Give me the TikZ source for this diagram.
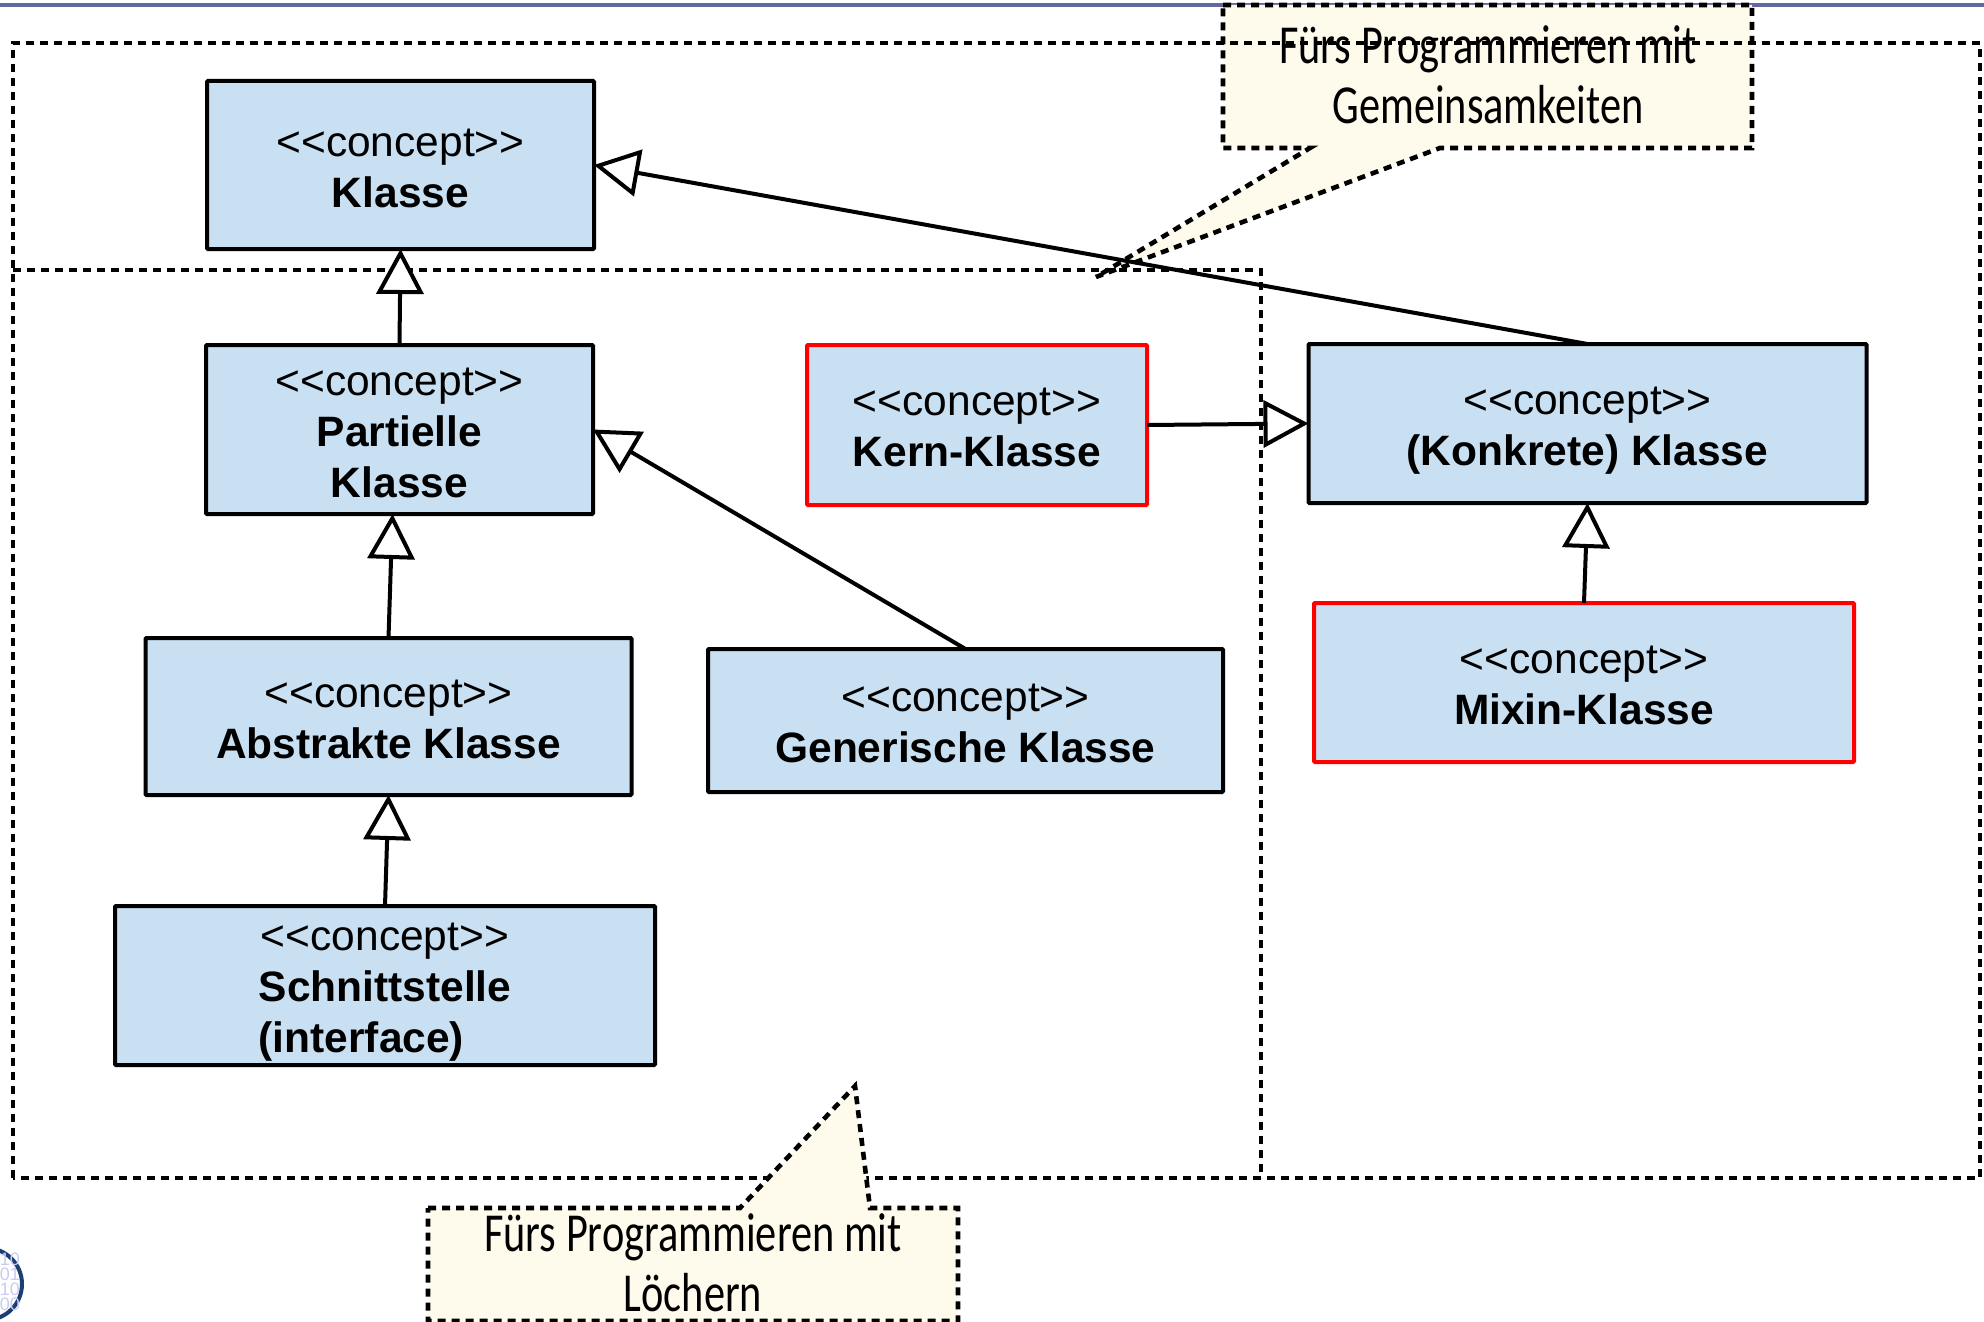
\documentclass[tikz,border=0pt]{standalone}
\usepackage{fontspec}
\setmainfont{Liberation Sans}
\newfontfamily\handfont[FakeStretch=0.77]{Carlito}
\usetikzlibrary{arrows.meta,calc}
\definecolor{boxblue}{HTML}{C9E0F3}
\definecolor{notefill}{HTML}{FFFBEC}
\definecolor{topbar}{HTML}{6468A0}
\definecolor{logonavy}{HTML}{1B3F73}
\definecolor{logodigit}{HTML}{C9CCF2}
\tikzset{
  x=1pt,y=-1pt,
  concept/.style={draw=black,fill=boxblue,line width=4pt,rounded corners=1pt,inner sep=0pt,outer sep=0pt,align=center,font=\fontsize{42.5}{51}\selectfont},
  conceptred/.style={concept,draw=red},
  frameline/.style={draw=black,line width=4.6pt,dash pattern=on 8pt off 6pt},
  noteshape/.style={draw=black,fill=notefill,line width=4.6pt,dash pattern=on 8pt off 6pt},
  notetext/.style={inner sep=0pt,align=center,font=\handfont\fontsize{55}{60}\selectfont},
  inherit/.style={draw=black,line width=4pt,-{Triangle[fill=white,length=45pt,width=47pt]}},
}
% first line of a box; the argument lowers the whole text block in its box
\newcommand{\cpt}[1]{\rule{0pt}{\dimexpr 30pt+2\dimexpr #1\relax\relax}<{}<concept>{}>}
\begin{document}
\begin{tikzpicture}
\useasboundingbox (0,0) rectangle (1984,1322);
% top bar
\fill[topbar] (0,3) rectangle (1984,7);
% logo
\begin{scope}
\clip (0,1230) rectangle (40,1322);
\draw[logonavy,line width=4pt,fill=white] (-14,1284) circle (36);
\node[text=logodigit,inner sep=0pt,align=right,anchor=east,font=\fontsize{18}{15}\selectfont] (logo) at (20,1282) {10\\01\\10\\00};
\end{scope}
% upper note (behind the frame)
\path[noteshape] (1223,5) -- (1752,5) -- (1752,148) -- (1440,148) -- (1096,277) -- (1310,148) -- (1223,148) -- cycle;
% frames
\draw[frameline] (13,1178) -- (13,43) -- (1980,43) -- (1980,1178) -- cycle;
\draw[frameline] (13,270) -- (1261,270) -- (1261,1178);
% note texts and lower note
\node[notetext] (noteA) at (1488,75) {Fürs Programmieren mit\\Gemeinsamkeiten};
\path[noteshape] (428,1208) -- (740,1208) -- (855,1086) -- (870,1208) -- (958,1208) -- (958,1321) -- (428,1321) -- cycle;
\node[notetext] (noteB) at (693,1263) {Fürs Programmieren mit\\Löchern};
% boxes
\node[concept,minimum width=387pt,minimum height=168pt] (klasse) at (400.5,165) {\cpt{2.5pt}\\\textbf{Klasse}};
\node[concept,minimum width=387pt,minimum height=169pt] (partiell) at (399.5,429.5) {\cpt{2.5pt}\\\textbf{Partielle}\\\textbf{Klasse}};
\node[concept,minimum width=486pt,minimum height=157pt] (abstrakt) at (388.5,716.5) {\cpt{1.5pt}\\\textbf{Abstrakte Klasse}};
\node[concept,minimum width=540pt,minimum height=159pt] (schnitt) at (385,985.5) {\cpt{5.5pt}\\\textbf{Schnittstelle}\\\textbf{\rlap{(interface)}\phantom{Schnittstelle}}};
\node[concept,minimum width=515pt,minimum height=143pt] (generisch) at (965.5,720.5) {\cpt{1.5pt}\\\textbf{Generische Klasse}};
\node[conceptred,minimum width=340pt,minimum height=160pt] (kern) at (977,425) {\cpt{1.5pt}\\\textbf{Kern-Klasse}};
\node[concept,minimum width=558pt,minimum height=159pt] (konkret) at (1587.5,423.5) {\cpt{6pt}\\\textbf{(Konkrete) Klasse}};
\node[conceptred,minimum width=540pt,minimum height=159pt] (mixin) at (1584,682.5) {\cpt{1.5pt}\\\textbf{Mixin-Klasse}};
% connectors
\draw[inherit] (partiell.north) -- (klasse.south);
\draw[inherit] (abstrakt.north) -- ($(partiell.south)+(-7,0)$);
\draw[inherit] (schnitt.north) -- (abstrakt.south);
\draw[inherit] (generisch.north) -- (partiell.east);
\draw[inherit] (kern.east) -- (konkret.west);
\draw[inherit] (konkret.north) -- (klasse.east);
\draw[inherit] (mixin.north) -- (konkret.south);
\end{tikzpicture}
\end{document}
